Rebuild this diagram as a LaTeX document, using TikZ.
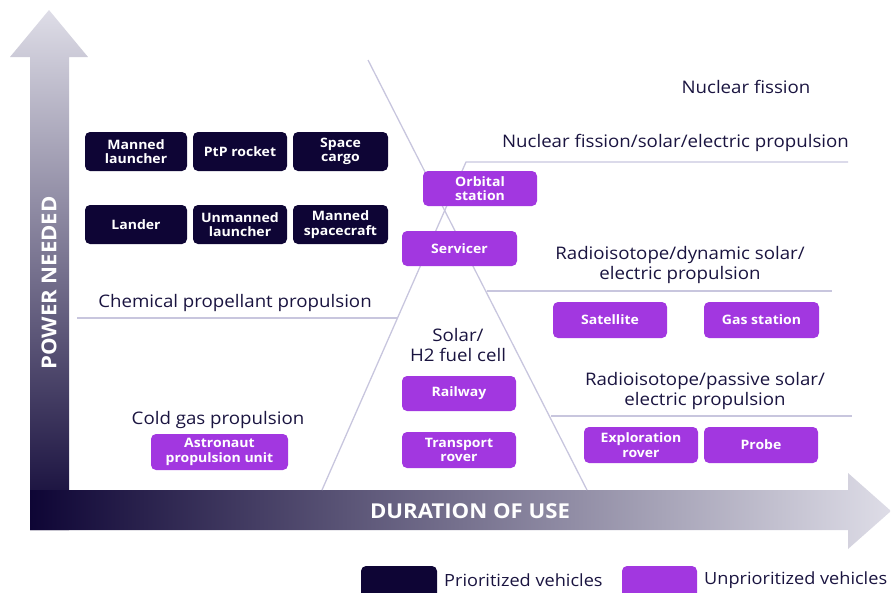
\documentclass[tikz,border=0pt]{standalone}
\usepackage{fontspec}
\setmainfont{Open Sans}[FakeStretch=1.08]
\definecolor{navy}{HTML}{0E0535}
\definecolor{purp}{HTML}{A237E0}
\definecolor{txt}{HTML}{1A1440}
\definecolor{ln}{HTML}{C8C6DE}
\definecolor{lite}{HTML}{DEDDE7}
\definecolor{midv}{HTML}{4F4675}
\begin{document}
\begin{tikzpicture}[x=1pt,y=-1pt,
  vbox/.style={rounded corners=5pt, minimum height=38pt, align=center, text=white,
    font=\bfseries\fontsize{13}{14.5}\selectfont, inner sep=0pt},
  dbox/.style={vbox, fill=navy, minimum height=39pt},
  pbox/.style={vbox, fill=purp, minimum width=115pt, minimum height=36pt},
  lbl/.style={text=txt, font=\fontsize{17.3}{20}\selectfont, align=center, inner sep=0pt},
  leg/.style={text=txt, font=\fontsize{16.8}{20}\selectfont, inner sep=0pt, anchor=west},
  axlbl/.style={text=white, font=\bfseries\fontsize{20.5}{20.5}\selectfont},
  region/.style={draw=ln, line width=1.3pt}]
\clip (0,0) rectangle (891,592);
\useasboundingbox (0,0) rectangle (891,592);
% axes
\shade[top color=lite, middle color=midv, bottom color=navy]
  (30,530) -- (30,57) -- (10,57) -- (49,10) -- (88,57) -- (69,57) -- (69,530) -- cycle;
\shade[left color=navy, middle color=midv, right color=lite]
  (30,490) -- (848,490) -- (848,473) -- (891,511) -- (848,549) -- (848,530) -- (30,530) -- cycle;
\node[axlbl, rotate=90] (yl) at (49,283) {POWER NEEDED};
\node[axlbl] (xl) at (470,511) {DURATION OF USE};
% region lines
\coordinate (a) at (368,60);
\coordinate (b) at (587,490);
\coordinate (c) at (322,490);
\coordinate (d) at (466,162);
\coordinate (e) at (848,162);
\coordinate (f1) at (487,291); \coordinate (f2) at (832,291);
\coordinate (g1) at (551,416); \coordinate (g2) at (852,416);
\coordinate (h1) at (77,318);  \coordinate (h2) at (397,318);
\draw[region] (a) -- (b);
\draw[region] (c) -- (d) -- (e);
\draw[region] (f1) -- (f2);
\draw[region] (g1) -- (g2);
\draw[region] (h1) -- (h2);
% labels
\node[lbl] (t1) at (746,87) {Nuclear fission};
\node[lbl] (t2) at (675.5,143) {Nuclear fission/solar/electric propulsion};
\node[lbl] (t3) at (680,265) {Radioisotope/dynamic solar/\\electric propulsion};
\node[lbl] (t4) at (705,391) {Radioisotope/passive solar/\\electric propulsion};
\node[lbl] (t5) at (235,303) {Chemical propellant propulsion};
\node[lbl] (t6) at (458,345) {Solar/\\H2 fuel cell};
\node[lbl] (t7) at (218,420) {Cold gas propulsion};
% prioritized
\node[dbox, minimum width=102pt] (ml) at (136,151.5) {Manned\\launcher};
\node[dbox, minimum width=94pt] (ptp) at (240,151.5) {PtP rocket};
\node[dbox, minimum width=95pt] (sc) at (340.5,151.5) {Space\\cargo};
\node[dbox, minimum width=102pt] (la) at (136,224.5) {Lander};
\node[dbox, minimum width=94pt] (ul) at (240,224.5) {Unmanned\\launcher};
\node[dbox, minimum width=95pt] (ms) at (340.5,224.5) {Manned\\spacecraft};
% unprioritized
\node[pbox, minimum width=114pt, minimum height=35pt] (os) at (480,188.5) {Orbital\\station};
\node[pbox, minimum height=35pt] (sv) at (459.5,248.5) {Servicer};
\node[pbox, minimum width=114pt] (sat) at (610,320) {Satellite};
\node[pbox] (gs) at (761.5,320) {Gas station};
\node[pbox, minimum width=114pt, minimum height=35pt] (rw) at (459,393.5) {Railway};
\node[pbox, minimum width=114pt] (tr) at (459,450) {Transport\\rover};
\node[pbox, minimum width=114pt] (er) at (641,445) {Exploration\\rover};
\node[pbox, minimum width=114pt] (pr) at (761,445) {Probe};
\node[pbox, minimum width=137pt] (ap) at (219.5,452) {Astronaut\\propulsion unit};
% legend
\node[fill=navy, rounded corners=5pt, minimum width=76pt, minimum height=34pt, inner sep=0pt] (lg1) at (399,583) {};
\node[leg] (lt1) at (444,580) {Prioritized vehicles};
\node[fill=purp, rounded corners=5pt, minimum width=75pt, minimum height=34pt, inner sep=0pt] (lg2) at (659.5,583) {};
\node[leg] (lt2) at (704,580) {Unprioritized vehicles};
\end{tikzpicture}
\end{document}
